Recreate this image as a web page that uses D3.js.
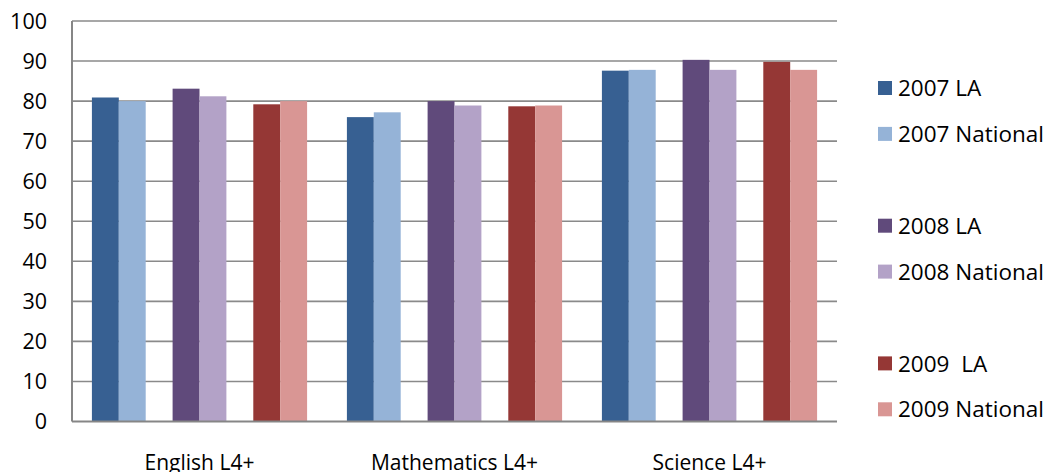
<!DOCTYPE html>
<html>
<head>
<meta charset="utf-8">
<script src="https://cdn.jsdelivr.net/npm/d3@7"></script>
<style>
  body { margin: 0; background: #fff; }
  text { font-family: "Open Sans", sans-serif; fill: #000; }
</style>
</head>
<body>
<div id="chart"></div>
<script>
// data
const categories = ["English L4+", "Mathematics L4+", "Science L4+"];
// blank series keep the gaps (as in the original spreadsheet)
const seriesNames = ["2007 LA", "2007 National", "", "2008 LA", "2008 National", "", "2009  LA", "2009 National"];
const seriesColors = ["#376092", "#95b3d7", null, "#604a7b", "#b3a2c7", null, "#953735", "#d99694"];
const la2007 = [80.9, 76.0, 87.6];
const nat2007 = [80.0, 77.2, 87.8];
const la2008 = [83.1, 80.0, 90.3];
const nat2008 = [81.2, 78.9, 87.8];
const la2009 = [79.2, 78.7, 89.8];
const nat2009 = [80.0, 78.9, 87.8];
const yTicks = [0, 10, 20, 30, 40, 50, 60, 70, 80, 90, 100];

const seriesValues = [la2007, nat2007, null, la2008, nat2008, null, la2009, nat2009];

const W = 1051, H = 472;
const margin = { top: 21, right: 214, bottom: 50.5, left: 72 },
  width = W - margin.left - margin.right,
  height = H - margin.top - margin.bottom;

const svg = d3.select("#chart").append("svg")
  .attr("width", W).attr("height", H);

const g = svg.append("g")
  .attr("transform", `translate(${margin.left},${margin.top})`);

const x = d3.scaleBand().domain(categories).range([0, width]).padding(0);
const xs = d3.scaleBand().domain(d3.range(seriesNames.length))
  .range([0, x.bandwidth()]).paddingInner(0).paddingOuter(0.74);
const y = d3.scaleLinear().domain([0, 100]).range([height, 0]);

// gridlines
g.selectAll(".grid")
  .data(yTicks.filter(d => d > 0))
  .join("line")
    .attr("x1", 0).attr("x2", width)
    .attr("y1", d => y(d)).attr("y2", d => y(d))
    .attr("stroke", "#8a8a8a")
    .attr("stroke-width", 1.6);

// bars
let bars = [];
seriesValues.forEach((vals, si) => {
  if (!vals) return;
  vals.forEach((v, ci) => bars.push({ si: si, cat: categories[ci], v: v }));
});
g.selectAll(".bar")
  .data(bars)
  .join("rect")
    .attr("x", d => x(d.cat) + xs(d.si))
    .attr("y", d => y(d.v))
    .attr("width", xs.bandwidth())
    .attr("height", d => height - y(d.v))
    .attr("fill", d => seriesColors[d.si]);

// axes lines
g.append("line")
  .attr("x1", 0).attr("x2", 0).attr("y1", 0).attr("y2", height)
  .attr("stroke", "#868686").attr("stroke-width", 2);
g.append("line")
  .attr("x1", 0).attr("x2", width).attr("y1", height).attr("y2", height)
  .attr("stroke", "#868686").attr("stroke-width", 2);

// y labels
g.selectAll(".ylab")
  .data(yTicks)
  .join("text")
    .attr("x", -25)
    .attr("y", d => y(d))
    .attr("dy", "0.36em")
    .attr("text-anchor", "end")
    .style("font-size", "21.5px")
    .text(d => d);

// x labels
g.selectAll(".xlab")
  .data(categories)
  .join("text")
    .attr("x", d => x(d) + x.bandwidth() / 2)
    .attr("y", height + 48)
    .attr("text-anchor", "middle")
    .style("font-size", "21px")
    .text(d => d);

// legend
const leg = svg.append("g").attr("transform", "translate(878,88)");
const items = leg.selectAll(".item")
  .data(seriesNames.map((n, i) => ({ name: n, color: seriesColors[i], i: i })).filter(d => d.name))
  .join("g")
    .attr("transform", d => `translate(0,${d.i * 45.9})`);
items.append("rect")
  .attr("x", 0).attr("y", -7).attr("width", 14).attr("height", 14)
  .attr("fill", d => d.color);
items.append("text")
  .attr("x", 20)
  .attr("dy", "0.36em")
  .style("font-size", "22.5px")
  .style("white-space", "pre")
  .text(d => d.name);
</script>
</body>
</html>
